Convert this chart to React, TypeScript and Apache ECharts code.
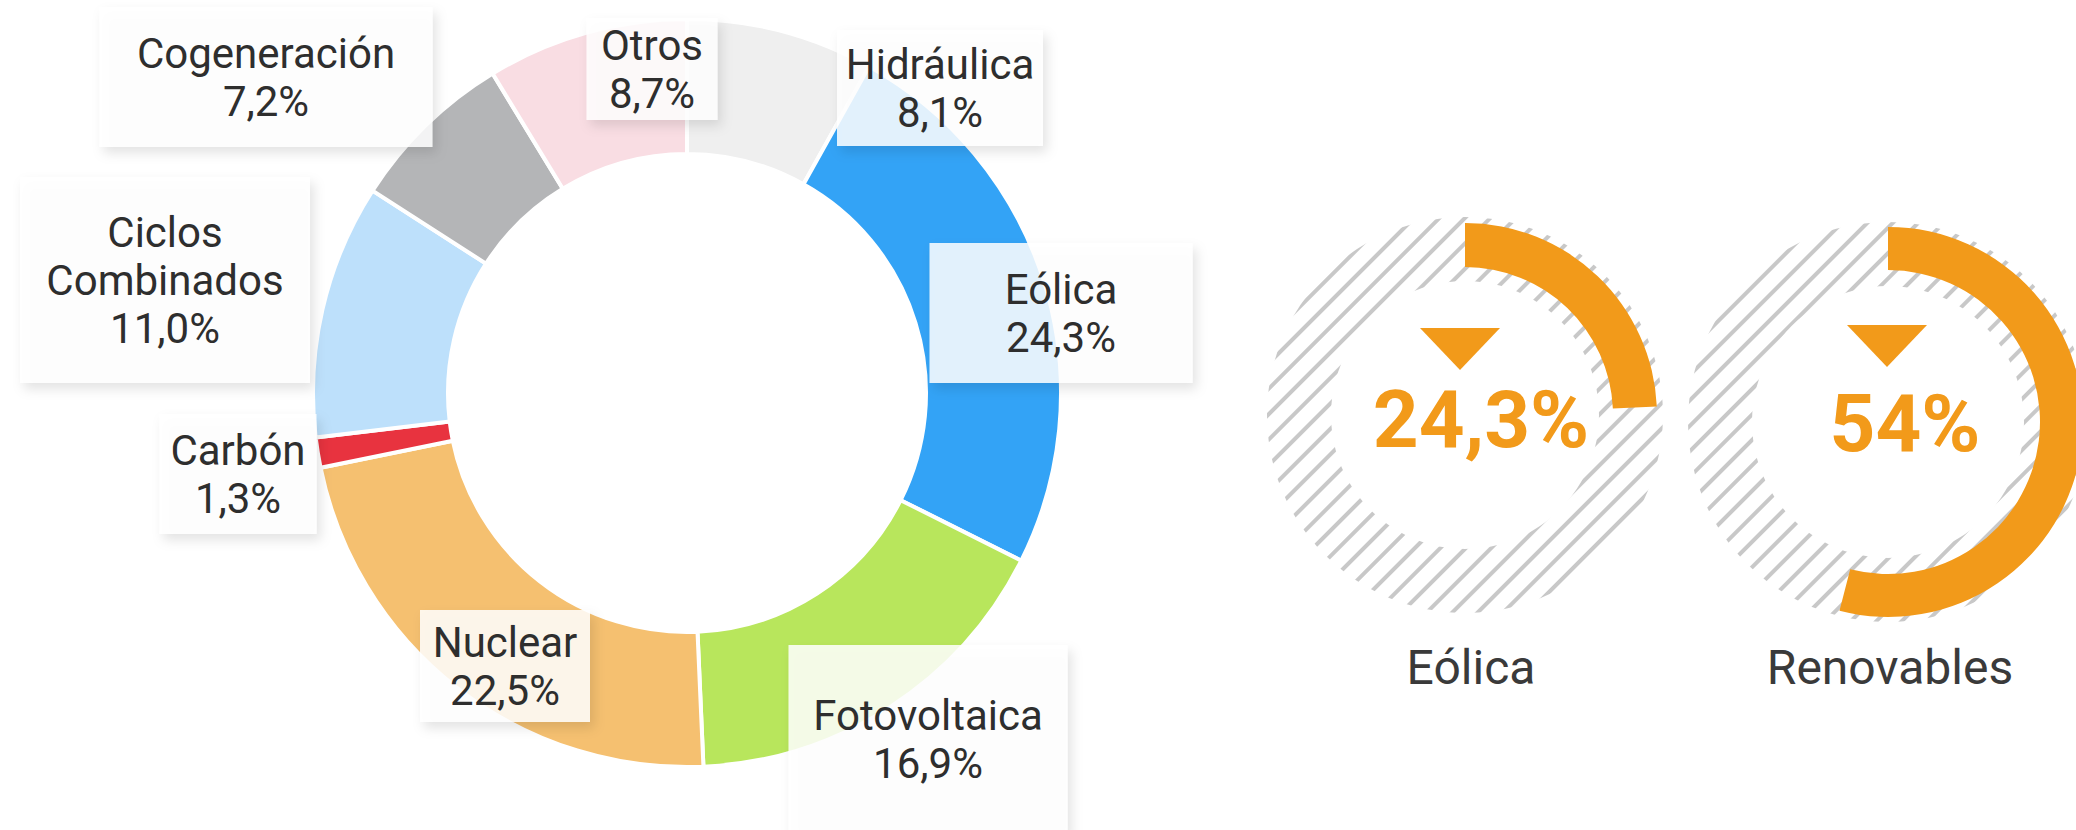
import React, { useEffect, useRef } from 'react';
import * as echarts from 'echarts';

// ---------- data ----------
const CATEGORIES = ['Hidráulica', 'Eólica', 'Fotovoltaica', 'Nuclear', 'Carbón', 'Ciclos Combinados', 'Cogeneración', 'Otros'];
const SHARES = [8.1, 24.3, 16.9, 22.5, 1.3, 11.0, 7.2, 8.7];
const GAUGE_NAMES = ['Eólica', 'Renovables'];
const GAUGE_VALUES = [24.3, 54];

// ---------- styles / layout ----------
const COLORS = ['#efefef', '#33a3f6', '#b8e65c', '#f5c070', '#e8333f', '#bde0fb', '#b4b5b7', '#f9dde3'];
const ORANGE = '#f29a1a';
const TEXT = '#2e2e2e';
const FONT = 'Roboto';
const LABEL_FS = 42;
const LABEL_LH = 48;
const DONUT_CENTER = [687, 393];
const DONUT_RADIUS = [239, 374];
// label boxes: centre x, centre y, box width, box height
const LABEL_BOXES = [
  [940, 88, 206, 116],
  [1061, 313, 263, 140],
  [928, 739, 279, 188],
  [505, 666, 170, 112],
  [238, 474, 157, 120],
  [165, 280, 290, 206],
  [266, 77, 333, 140],
  [652, 69, 131, 102],
];
const GAUGES = [
  { center: [1465, 415], radius: [148, 192], hatch: [134, 198], tri: [1460, 328], textOffset: [16, 5], caption: [1471, 667] },
  { center: [1888, 422], radius: [152, 195], hatch: [136, 200], tri: [1887, 325], textOffset: [17, 2], caption: [1890, 667] },
];

const fmt = (v: number, digits: number) => v.toFixed(digits).replace('.', ',');
const labelText = (name: string, v: number) => `${name.replace(' ', '\n')}\n${fmt(v, 1)}%`;

export default function App() {
  const ref = useRef<HTMLDivElement>(null);
  useEffect(() => {
    if (!ref.current) return;
    const chart = echarts.init(ref.current, undefined, { renderer: 'svg' });

    const ctx = document.createElement('canvas').getContext('2d')!;
    ctx.font = `${LABEL_FS}px ${FONT}`;
    const measure = (s: string) => Math.max(...s.split('\n').map((l) => ctx.measureText(l).width));

    const donutData = CATEGORIES.map((name, i) => {
      const txt = labelText(name, SHARES[i]);
      const lines = txt.split('\n').length;
      const [, , w, h] = LABEL_BOXES[i];
      const padH = Math.max(2, (w - measure(txt)) / 2);
      const padV = Math.max(2, (h - lines * LABEL_LH) / 2);
      return {
        name,
        value: SHARES[i],
        itemStyle: { color: COLORS[i] },
        label: { padding: [padV, padH, padV, padH] },
      };
    });

    const series: any[] = [
      {
        type: 'pie',
        center: DONUT_CENTER,
        radius: DONUT_RADIUS,
        startAngle: 90,
        clockwise: true,
        silent: true,
        avoidLabelOverlap: false,
        itemStyle: { borderColor: '#ffffff', borderWidth: 4 },
        label: {
          show: true,
          position: 'inside',
          formatter: (p: any) => labelText(p.name, p.value),
          fontFamily: FONT,
          fontSize: LABEL_FS,
          lineHeight: LABEL_LH,
          color: TEXT,
          align: 'center',
          backgroundColor: 'rgba(255,255,255,0.85)',
          shadowColor: 'rgba(0,0,0,0.13)',
          shadowBlur: 12,
          shadowOffsetX: 4,
          shadowOffsetY: 6,
        },
        labelLine: { show: false },
        labelLayout: (p: any) => {
          const b = LABEL_BOXES[p.dataIndex];
          return { x: b[0], y: b[1], align: 'center', verticalAlign: 'middle' };
        },
        emphasis: { disabled: true },
        data: donutData,
      },
    ];

    GAUGES.forEach((g, i) => {
      series.push({
        type: 'pie',
        center: g.center,
        radius: g.hatch,
        silent: true,
        label: { show: false },
        labelLine: { show: false },
        emphasis: { disabled: true },
        itemStyle: {
          color: 'rgba(255,255,255,0)',
          decal: {
            symbol: 'rect',
            symbolSize: 1,
            color: '#c8c8c8',
            backgroundColor: 'rgba(255,255,255,0)',
            dashArrayX: [1, 0],
            dashArrayY: [4, 14],
            rotation: -Math.PI / 4,
          },
        },
        data: [{ value: 1, name: GAUGE_NAMES[i] + ' fondo' }],
      });
      series.push({
        type: 'pie',
        center: g.center,
        radius: g.radius,
        startAngle: 90,
        clockwise: true,
        silent: true,
        labelLine: { show: false },
        emphasis: { disabled: true },
        data: [
          {
            name: GAUGE_NAMES[i],
            value: GAUGE_VALUES[i],
            itemStyle: { color: ORANGE },
            label: {
              show: true,
              position: 'center',
              formatter: () => `${fmt(GAUGE_VALUES[i], GAUGE_VALUES[i] % 1 === 0 ? 0 : 1)}%`,
              fontFamily: FONT,
              fontWeight: 'bold',
              fontSize: 80,
              color: ORANGE,
              offset: g.textOffset,
            },
          },
          {
            name: 'resto',
            value: 100 - GAUGE_VALUES[i],
            itemStyle: { color: 'rgba(255,255,255,0)' },
            label: { show: false },
          },
        ],
      });
    });

    const graphic: any[] = [];
    GAUGES.forEach((g, i) => {
      const [tx, ty] = g.tri;
      graphic.push({
        type: 'polygon',
        silent: true,
        shape: { points: [[tx - 40, ty], [tx + 40, ty], [tx, ty + 42]] },
        style: { fill: ORANGE },
      });
      graphic.push({
        type: 'text',
        silent: true,
        x: g.caption[0],
        y: g.caption[1],
        style: {
          text: GAUGE_NAMES[i],
          fontFamily: FONT,
          fontSize: 48,
          fill: '#3a3a3a',
          textAlign: 'center',
          textVerticalAlign: 'middle',
        },
      });
    });

    chart.setOption({
      animation: false,
      backgroundColor: '#ffffff',
      series,
      graphic,
    });
    return () => chart.dispose();
  }, []);
  return <div ref={ref} style={{ position: 'fixed', left: 0, top: 0, width: 2076, height: 830 }} />;
}
